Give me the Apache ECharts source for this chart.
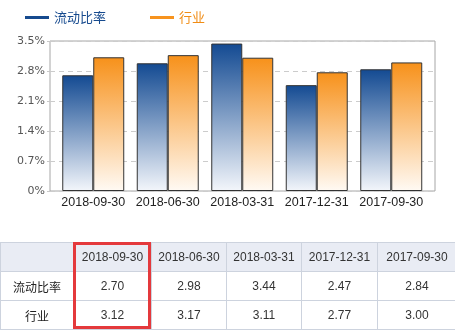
<!DOCTYPE html>
<html><head><meta charset="utf-8">
<script src="https://cdn.jsdelivr.net/npm/echarts@6/dist/echarts.min.js"></script>
<style>
html,body{margin:0;padding:0;background:#fff;width:455px;height:331px;overflow:hidden;}
#c{position:absolute;left:0;top:0;width:455px;height:331px;}
#t{position:absolute;left:0;top:242px;width:456px;border-collapse:collapse;table-layout:fixed;font-family:"Liberation Sans",Arial,"Noto Sans CJK SC",sans-serif;font-size:12px;color:#333;}
#t td{border:1px solid #cdd3de;height:28px;text-align:center;padding:0;white-space:nowrap;}
#t tr.h td{background:#e9ecf4;}
#t td.cn{font-family:"Noto Sans CJK SC",sans-serif;color:#222;}
#box{position:absolute;left:73px;top:242px;width:78px;height:87px;border:3px solid #e4393c;box-sizing:border-box;}
</style>
</head><body>
<div id="c"></div>
<table id="t"><colgroup><col style="width:73px"><col style="width:78px"><col style="width:75px"><col style="width:75px"><col style="width:76px"><col style="width:79px"></colgroup><tbody id="tb"></tbody></table>
<div id="box"></div>
<script>
var categories = ['2018-09-30','2018-06-30','2018-03-31','2017-12-31','2017-09-30'];
var seriesNames = ['流动比率','行业'];
var ratio = [2.70, 2.98, 3.44, 2.47, 2.84];
var industry = [3.12, 3.17, 3.11, 2.77, 3.00];
var yMin = 0, yMax = 3.5, yStep = 0.7;

// table
var tb = document.getElementById('tb');
var html = '<tr class="h"><td></td>' + categories.map(function(c){return '<td>'+c+'</td>';}).join('') + '</tr>';
html += '<tr><td class="cn">'+seriesNames[0]+'</td>' + ratio.map(function(v){return '<td>'+v.toFixed(2)+'</td>';}).join('') + '</tr>';
html += '<tr><td class="cn">'+seriesNames[1]+'</td>' + industry.map(function(v){return '<td>'+v.toFixed(2)+'</td>';}).join('') + '</tr>';
tb.innerHTML = html;

var chart = echarts.init(document.getElementById('c'), null, {renderer:'canvas'});
function grad(top, bottom){
  return new echarts.graphic.LinearGradient(0,0,0,1,[{offset:0,color:top},{offset:1,color:bottom}]);
}
chart.setOption({
  animation:false,
  backgroundColor:'#fff',
  legend:{
    left:20, top:6, itemWidth:24, itemHeight:3, itemGap:44, icon:'rect',
    textStyle:{fontFamily:'"Noto Sans CJK SC",sans-serif', fontSize:13},
    data:[
      {name:seriesNames[0], itemStyle:{color:'#164a8e', borderWidth:0}, textStyle:{color:'#164a8e'}},
      {name:seriesNames[1], itemStyle:{color:'#f7931e', borderWidth:0}, textStyle:{color:'#f08c14'}}
    ]
  },
  grid:[
    {left:50, right:20, top:41, bottom:140, show:true, borderColor:'#a6a6a6', borderWidth:1},
    {left:56, right:26.5, top:41, bottom:140}
  ],
  xAxis:[
    {gridIndex:0, type:'value', show:false, min:0, max:1},
    {gridIndex:1, type:'category', data:categories,
     axisLine:{show:false}, axisTick:{show:false},
     axisLabel:{interval:0, hideOverlap:false, margin:5, color:'#222', fontFamily:'"Liberation Sans",Arial,sans-serif', fontSize:12.5}}
  ],
  yAxis:[
    {gridIndex:0, type:'value', min:yMin, max:yMax, interval:yStep,
     axisLine:{show:false},
     axisTick:{show:true, length:3, lineStyle:{color:'#c8c8c8'}},
     axisLabel:{margin:5, color:'#555', fontFamily:'"DejaVu Sans",Verdana,sans-serif', fontSize:11,
       formatter:function(v){return v===0?'0%':v.toFixed(1)+'%';}},
     splitLine:{show:true, lineStyle:{color:'#cccccc', type:[5,4]}}},
    {gridIndex:1, type:'value', min:yMin, max:yMax, interval:yStep, show:false, splitLine:{show:false}}
  ],
  series:[
    {name:seriesNames[0], type:'bar', xAxisIndex:1, yAxisIndex:1, data:ratio,
     barGap:'0%', barCategoryGap:'16.8%',
     itemStyle:{color:grad('#134a92','#f3f6fb'), borderColor:'#333', borderWidth:1}},
    {name:seriesNames[1], type:'bar', xAxisIndex:1, yAxisIndex:1, data:industry,
     barGap:'0%', barCategoryGap:'16.8%',
     itemStyle:{color:grad('#f7911a','#fffaf4'), borderColor:'#333', borderWidth:1}}
  ]
});
</script>
</body></html>
